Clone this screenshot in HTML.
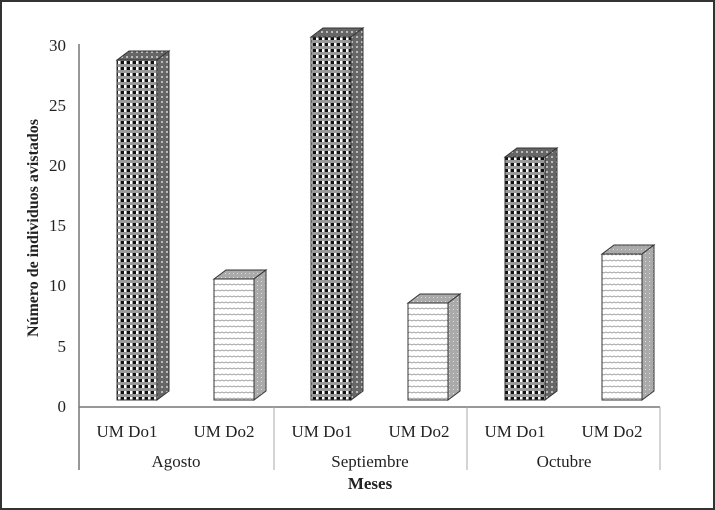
<!DOCTYPE html>
<html><head><style>body{margin:0;background:#fff}svg{display:block}text{font-family:"Liberation Serif",serif;fill:#222}</style></head><body>
<svg width="715" height="510" viewBox="0 0 715 510">
<defs>
<pattern id="chk" width="6" height="6" patternUnits="userSpaceOnUse"><rect width="6" height="6" fill="#999"/><rect x="1" y="1" width="3" height="3" fill="#111"/><rect x="4" y="1" width="2" height="3" fill="#fff"/></pattern>
<pattern id="chkS" width="5" height="5" patternUnits="userSpaceOnUse"><rect width="5" height="5" fill="#666"/><rect x="1" y="1" width="2" height="2" fill="#bbb"/></pattern>
<pattern id="dash" width="8" height="6" patternUnits="userSpaceOnUse"><rect width="8" height="6" fill="#fff"/><path d="M0 3 L2 2 L4 3 L6 2 L8 3" stroke="#999" stroke-width="0.8" fill="none"/></pattern>
<pattern id="dashS" width="4" height="4" patternUnits="userSpaceOnUse"><rect width="4" height="4" fill="#aaa"/><rect x="1" y="1" width="1" height="1" fill="#ddd"/></pattern>
</defs>
<rect x="1" y="1" width="713" height="508" fill="#fff" stroke="#333" stroke-width="2"/>
<g font-size="17" text-anchor="end">
<text x="66" y="412">0</text><text x="66" y="352">5</text><text x="66" y="291">10</text><text x="66" y="231">15</text><text x="66" y="171">20</text><text x="66" y="111">25</text><text x="66" y="51">30</text>
</g>
<text transform="translate(38,228) rotate(-90)" font-size="16" font-weight="bold" text-anchor="middle">Número de individuos avistados</text>
<line x1="79" y1="407" x2="660" y2="407" stroke="#777" stroke-width="1.5"/>
<line x1="79" y1="44" x2="79" y2="470" stroke="#777" stroke-width="1.5"/>
<line x1="274" y1="407" x2="274" y2="470" stroke="#aaa"/>
<line x1="467" y1="407" x2="467" y2="470" stroke="#aaa"/>
<line x1="660" y1="407" x2="660" y2="470" stroke="#aaa"/>
<g stroke="#333" stroke-width="1">
<polygon points="117,60 129,51 169,51 157,60" fill="url(#chkS)"/><polygon points="157,60 169,51 169,391 157,400" fill="url(#chkS)"/><rect x="117" y="60" width="40" height="340" fill="url(#chk)"/>
<polygon points="214,279 226,270 266,270 254,279" fill="url(#dashS)"/><polygon points="254,279 266,270 266,391 254,400" fill="url(#dashS)"/><rect x="214" y="279" width="40" height="121" fill="url(#dash)"/>
<polygon points="311,37 323,28 363,28 351,37" fill="url(#chkS)"/><polygon points="351,37 363,28 363,391 351,400" fill="url(#chkS)"/><rect x="311" y="37" width="40" height="363" fill="url(#chk)"/>
<polygon points="408,303 420,294 460,294 448,303" fill="url(#dashS)"/><polygon points="448,303 460,294 460,391 448,400" fill="url(#dashS)"/><rect x="408" y="303" width="40" height="97" fill="url(#dash)"/>
<polygon points="505,157 517,148 557,148 545,157" fill="url(#chkS)"/><polygon points="545,157 557,148 557,391 545,400" fill="url(#chkS)"/><rect x="505" y="157" width="40" height="243" fill="url(#chk)"/>
<polygon points="602,254 614,245 654,245 642,254" fill="url(#dashS)"/><polygon points="642,254 654,245 654,391 642,400" fill="url(#dashS)"/><rect x="602" y="254" width="40" height="146" fill="url(#dash)"/>
</g>
<g font-size="17" text-anchor="middle">
<text x="127" y="437">UM Do1</text><text x="224" y="437">UM Do2</text>
<text x="322" y="437">UM Do1</text><text x="419" y="437">UM Do2</text>
<text x="515" y="437">UM Do1</text><text x="612" y="437">UM Do2</text>
<text x="176" y="467">Agosto</text><text x="370" y="467">Septiembre</text><text x="564" y="467">Octubre</text>
<text x="370" y="489" font-weight="bold">Meses</text>
</g>
</svg>
</body></html>
